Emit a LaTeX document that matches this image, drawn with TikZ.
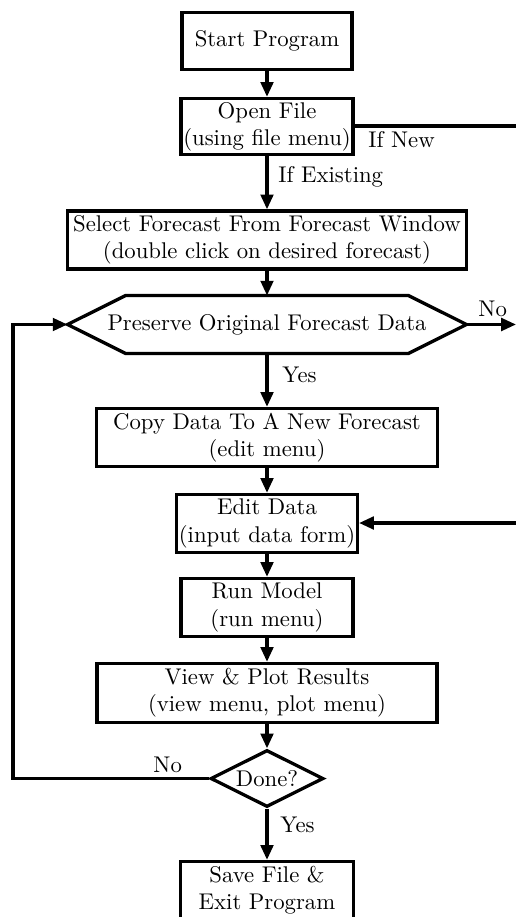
\documentclass[tikz,border=0pt]{standalone}
\usetikzlibrary{arrows.meta,shapes.geometric}
\newcommand\pxu{0.44pt}
\begin{document}
\begin{tikzpicture}[x=0.44pt,y=-0.44pt,
  box/.style={draw,line width=1.45pt,align=center,inner sep=1pt,font=\normalsize},
  flow/.style={line width=1.45pt,-{Triangle[length=6.5pt,width=5.5pt]}},
  plain/.style={line width=1.45pt},
  lbl/.style={anchor=base west,inner sep=0pt}]
\useasboundingbox (0,0) rectangle (516,917);
\node[box,minimum width=170*\pxu,minimum height=57*\pxu] (start) at (267,41) {Start Program};
\node[box,minimum width=170*\pxu,minimum height=56*\pxu] (open) at (267,126.5) {Open File\\(using file menu)};
\node[box,minimum width=399*\pxu,minimum height=58*\pxu] (select) at (267,240) {Select Forecast From Forecast Window\\(double click on desired forecast)};
\node[minimum width=398*\pxu,minimum height=57*\pxu,inner sep=0pt] (pres) at (267,324.5) {Preserve Original Forecast Data};
\draw[plain,line join=miter] (pres.west) -- ([xshift=58*\pxu]pres.north west) -- ([xshift=-58*\pxu]pres.north east) -- (pres.east) -- ([xshift=-58*\pxu]pres.south east) -- ([xshift=58*\pxu]pres.south west) -- cycle;
\node[box,minimum width=341*\pxu,minimum height=58*\pxu] (copy) at (267,437.5) {Copy Data To A New Forecast\\(edit menu)};
\node[box,minimum width=172*\pxu,minimum height=58*\pxu] (edit) at (267,523.5) {Edit Data\\(input data form)};
\node[box,minimum width=172*\pxu,minimum height=58*\pxu] (run) at (267,607.5) {Run Model\\(run menu)};
\node[box,minimum width=340*\pxu,minimum height=59*\pxu] (view) at (267,693) {View \& Plot Results\\(view menu, plot menu)};
\node[draw,diamond,line width=1.45pt,inner sep=0pt,aspect=2,minimum width=113*\pxu,minimum height=57*\pxu] (done) at (267,778.5) {Done?};
\node[box,minimum width=173*\pxu,minimum height=57*\pxu] (save) at (267,890) {Save File \&\\Exit Program};
\coordinate (rA) at (516,126);
\coordinate (rB) at (516,324.5);
\coordinate (rC) at (516,523);
\coordinate (lb) at (13,0);
\draw[flow] (start.south) -- (open.north);
\draw[flow] (open.south) -- (select.north);
\draw[plain] (open.east |- rA) -- (rA);
\draw[flow] (select.south) -- (pres.north);
\draw[flow] (pres.east) -- (rB);
\draw[flow] (pres.south) -- (copy.north);
\draw[flow] (copy.south) -- (edit.north);
\draw[flow] (rC) -- (edit.east |- rC);
\draw[flow] (edit.south) -- (run.north);
\draw[flow] (run.south) -- (view.north);
\draw[flow] (view.south) -- (done.north);
\draw[flow] (done.south) -- (save.north);
\draw[flow,line join=miter] (done.west) -- (done.west -| lb) -- (pres.west -| lb) -- (pres.west);
\node[lbl] (lnew) at (368,148) {If New};
\node[lbl] (lexist) at (278,183) {If Existing};
\node[lbl] (lno1) at (478,317) {No};
\node[lbl] (lyes1) at (282,383) {Yes};
\node[lbl] (lno2) at (153,772) {No};
\node[lbl] (lyes2) at (280,832) {Yes};
\end{tikzpicture}
\end{document}
